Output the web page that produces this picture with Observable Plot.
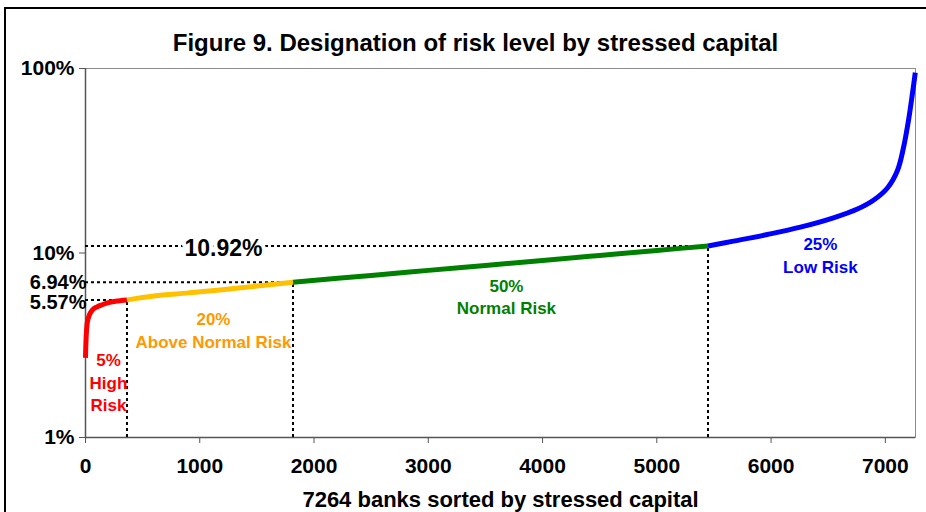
<!DOCTYPE html>
<html><head><meta charset="utf-8">
<script src="https://cdn.jsdelivr.net/npm/d3@7"></script>
<script src="https://cdn.jsdelivr.net/npm/@observablehq/plot@0.6"></script>
<style>
body{margin:0;background:#fff;overflow:hidden;}
#wrap{position:relative;width:926px;height:512px;overflow:hidden;}
#wrap svg{position:absolute;left:0;top:0;}
#border{position:absolute;left:4px;top:7px;width:960px;height:560px;border-top:2px solid #000;border-left:2px solid #000;pointer-events:none;z-index:2;}
</style></head><body><div id="wrap"><div id="border"></div></div>
<script>
const chartTitle = "Figure 9. Designation of risk level by stressed capital";
const xTitle = "7264 banks sorted by stressed capital";
const totalBanks = 7264;

// sorted stressed capital (%) by bank rank
const rank    = [0, 4, 9, 17, 30, 44, 70, 100, 131, 193, 263, 363, 600, 900, 1200, 1500, 1816, 2500, 3000, 3500, 4000, 4500, 5000, 5448, 5671, 5968, 6257, 6546, 6756, 6896, 7018, 7106, 7158, 7202, 7237, 7262];
const capital = [2.7, 3.3, 3.8, 4.25, 4.55, 4.75, 4.98, 5.1, 5.2, 5.37, 5.48, 5.57, 5.85, 6.08, 6.33, 6.62, 6.94, 7.56, 8.05, 8.56, 9.11, 9.70, 10.33, 10.92, 11.6, 12.6, 13.8, 15.5, 17.3, 19.3, 22.5, 28, 37, 52, 73, 95];

const groupNames  = ["High Risk", "Above Normal Risk", "Normal Risk", "Low Risk"];
const groupShares = ["5%", "20%", "50%", "25%"];
const groupBounds = [0, 363, 1816, 5448, 7264];
const lineColors  = ["#FF0000", "#FFC000", "#008000", "#0000FF"];
const textColors  = ["#FF0000", "#FF9900", "#008000", "#0000FF"];

const cutoffRank  = [363, 1816, 5448];
const cutoffValue = [5.57, 6.94, 10.92];

const xTicks = [0, 1000, 2000, 3000, 4000, 5000, 6000, 7000];
const yTicks = [1, 10, 100];

// annotation anchors (data units)
const labelRank  = [201, 1120, 3684, 6432];
const labelValue = [2.01, 3.85, 5.85, 9.82];
const labelLines = [["5%", "High", "Risk"], ["20%", "Above Normal Risk"], ["50%", "Normal Risk"], ["25%", "Low Risk"]];

const points = rank.map((r, i) => ({rank: r, value: capital[i]}));
const segments = groupNames.map((g, i) => points.filter(p => p.rank >= groupBounds[i] && p.rank <= groupBounds[i + 1]));
const cutoffs = cutoffRank.map((r, i) => ({rank: r, value: cutoffValue[i]}));
const labels = groupNames.map((g, i) => ({rank: labelRank[i], value: labelValue[i], text: labelLines[i].join("\n"), color: textColors[i]}));

const font = "'Liberation Sans', Arial, Helvetica, sans-serif";

const chart = Plot.plot({
  width: 926,
  height: 512,
  marginTop: 68,
  marginLeft: 85,
  marginRight: 11,
  marginBottom: 75,
  style: {fontFamily: font, fontWeight: "bold", fontSize: "21px", background: "transparent", overflow: "visible"},
  x: {domain: [0, totalBanks]},
  y: {type: "log", domain: [1, 100]},
  marks: [
    Plot.frame({stroke: "#8c8c8c"}),
    Plot.ruleX([0], {stroke: "#555", strokeWidth: 1.5}),
    Plot.ruleY([1], {stroke: "#555", strokeWidth: 1.5}),
    Plot.ruleY(cutoffs, {y: "value", x1: 0, x2: "rank", stroke: "black", strokeWidth: 2, strokeDasharray: "3,3"}),
    Plot.ruleX(cutoffs, {x: "rank", y1: 1, y2: "value", stroke: "black", strokeWidth: 2, strokeDasharray: "3,3"}),
    ...segments.map((s, i) => Plot.line(s, {x: "rank", y: "value", stroke: lineColors[i], strokeWidth: 5, curve: "catmull-rom", strokeLinecap: "butt"})),
    Plot.axisY({ticks: yTicks, tickFormat: d => d + "%", tickSize: 6, tickPadding: 5, fontSize: 21, stroke: "#555", label: null}),
    Plot.text([cutoffs[1]], {frameAnchor: "left", y: "value", text: d => d.value + "%", textAnchor: "end", dx: 1, dy: 0, fontSize: 20, fill: "black"}),
    Plot.text([cutoffs[0]], {frameAnchor: "left", y: "value", text: d => d.value + "%", textAnchor: "end", dx: 1, dy: 3, fontSize: 20, fill: "black"}),
    Plot.axisX({ticks: xTicks, tickFormat: d => String(d), tickSize: 6, tickPadding: 15, fontSize: 21, stroke: "#555", label: null}),
    Plot.text([cutoffs[2]], {x: 1208, y: "value", text: d => d.value + "%", fontSize: 23, fill: "black", stroke: "white", strokeWidth: 8, dy: 3}),
    Plot.text(labels, {x: "rank", y: "value", text: "text", fill: "color", fontSize: 17, lineHeight: 1.32}),
    Plot.text([chartTitle], {frameAnchor: "top", lineAnchor: "middle", dx: -25, dy: -25, fontSize: 24, fill: "black"}),
    Plot.text([xTitle], {frameAnchor: "bottom", lineAnchor: "middle", dy: 62, fontSize: 22, fill: "black"})
  ]
});
document.getElementById("wrap").prepend(chart);
</script>
</body></html>
